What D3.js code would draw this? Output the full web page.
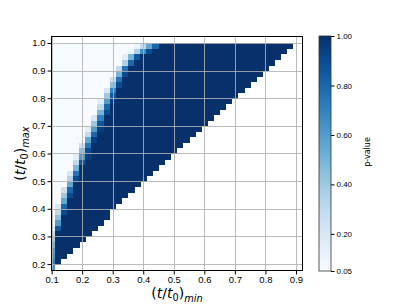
<!DOCTYPE html>
<html>
<head>
<meta charset="utf-8">
<script src="https://cdn.jsdelivr.net/npm/d3@7"></script>
<style>
  body { margin: 0; background: #fff; }
  svg { display: block; font-family: "DejaVu Sans", sans-serif; }
</style>
</head>
<body>
<svg id="chart"></svg>
<script>
// Data: column centres (t/t0)_min and row centres (t/t0)_max
const tMin = [0.10, 0.12, 0.14, 0.16, 0.18, 0.20, 0.22, 0.24, 0.26, 0.28,
              0.30, 0.32, 0.34, 0.36, 0.38, 0.40, 0.42, 0.44, 0.46, 0.48,
              0.50, 0.52, 0.54, 0.56, 0.58, 0.60, 0.62, 0.64, 0.66, 0.68,
              0.70, 0.72, 0.74, 0.76, 0.78, 0.80, 0.82, 0.84, 0.86, 0.88, 0.90];
const tMax = [0.19, 0.21, 0.23, 0.25, 0.27, 0.29, 0.31, 0.33, 0.35, 0.37,
              0.39, 0.41, 0.43, 0.45, 0.47, 0.49, 0.51, 0.53, 0.55, 0.57,
              0.59, 0.61, 0.63, 0.65, 0.67, 0.69, 0.71, 0.73, 0.75, 0.77,
              0.79, 0.81, 0.83, 0.85, 0.87, 0.89, 0.91, 0.93, 0.95, 0.97, 0.99];

// last filled column for each row (cells beyond are empty)
const lastCol = [0, 1, 2, 3, 4, 5, 6, 7, 8, 9,
                 9, 10, 11, 12, 13, 14, 15, 16, 17, 18,
                 19, 20, 21, 22, 23, 24, 25, 26, 27, 28,
                 29, 30, 31, 32, 33, 34, 35, 36, 37, 38, 39];

// per row: first column of the transition, and the p-values across it.
// columns before it sit at the floor (0.05), after it at 1.00
const rampStart = [0, 0, 0, 0, 0, 0, 0, 0, 1, 1,
                   1, 1, 2, 2, 2, 3, 3, 3, 4, 4,
                   4, 5, 5, 6, 6, 6, 7, 7, 8, 8,
                   8, 9, 9, 10, 10, 11, 11, 12, 12, 13, 14];
const ramps = [
  [0.65], [0.70], [0.65], [0.60], [0.50], [0.40], [0.25], [0.15, 0.85], [0.60], [0.45],
  [0.30, 0.90], [0.20, 0.80], [0.55], [0.40, 0.90], [0.25, 0.80], [0.55], [0.35, 0.90], [0.20, 0.75], [0.50], [0.30, 0.85],
  [0.15, 0.60, 0.95], [0.45, 0.90], [0.25, 0.75], [0.55, 0.95], [0.30, 0.80], [0.15, 0.60, 0.95], [0.40, 0.85], [0.20, 0.70], [0.50, 0.90], [0.30, 0.80],
  [0.15, 0.60, 0.95], [0.40, 0.85], [0.20, 0.70], [0.45, 0.90], [0.25, 0.75], [0.50, 0.90], [0.30, 0.75], [0.35, 0.80], [0.15, 0.50, 0.85],
  [0.10, 0.35, 0.65, 0.90], [0.10, 0.30, 0.55, 0.80]
];

const xTicks = [0.1, 0.2, 0.3, 0.4, 0.5, 0.6, 0.7, 0.8, 0.9];
const yTicks = [0.2, 0.3, 0.4, 0.5, 0.6, 0.7, 0.8, 0.9, 1.0];
const cbTicks = [0.05, 0.2, 0.4, 0.6, 0.8, 1.0];

// Dimensions
const width = 407;
const height = 305;
const plot = { left: 51, right: 303, top: 36, bottom: 271 };
const cb = { left: 319, right: 331 };
const halfStep = 0.01;

const svg = d3.select("#chart")
    .attr("width", width)
    .attr("height", height);

// Scales
const x = d3.scaleLinear().domain([0.098, 0.923]).range([plot.left, plot.right]);
const y = d3.scaleLinear().domain([0.175, 1.025]).range([plot.bottom, plot.top]);
const color = d3.scaleSequential(d3.interpolateBlues).domain([0.05, 1.0]);

// Build cells
const cells = [];
tMax.forEach((ty, j) => {
    for (let i = 0; i <= lastCol[j]; i++) {
        let p;
        if (i < rampStart[j]) p = 0.05;
        else if (i - rampStart[j] < ramps[j].length) p = ramps[j][i - rampStart[j]];
        else p = 1.0;
        cells.push({ tx: tMin[i], ty: ty, p: p });
    }
});

svg.append("clipPath").attr("id", "clip")
  .append("rect")
    .attr("x", plot.left).attr("y", plot.top)
    .attr("width", plot.right - plot.left).attr("height", plot.bottom - plot.top);

// Heatmap
svg.append("g")
    .attr("clip-path", "url(#clip)")
    .attr("shape-rendering", "crispEdges")
  .selectAll("rect")
  .data(cells)
  .enter()
  .append("rect")
    .attr("x", d => x(d.tx - halfStep))
    .attr("y", d => y(d.ty + halfStep))
    .attr("width", d => x(d.tx + halfStep) - x(d.tx - halfStep) + 0.5)
    .attr("height", d => y(d.ty - halfStep) - y(d.ty + halfStep) + 0.5)
    .attr("fill", d => color(d.p));

// Grid
const grid = svg.append("g").attr("stroke", "#b0b0b0").attr("stroke-opacity", 0.85).attr("stroke-width", 1);
grid.selectAll(".gx").data(xTicks).enter().append("line")
    .attr("x1", d => Math.round(x(d)) + 0.5).attr("x2", d => Math.round(x(d)) + 0.5)
    .attr("y1", plot.top).attr("y2", plot.bottom);
grid.selectAll(".gy").data(yTicks).enter().append("line")
    .attr("y1", d => Math.round(y(d)) + 0.5).attr("y2", d => Math.round(y(d)) + 0.5)
    .attr("x1", plot.left).attr("x2", plot.right);

// Axes
const xAxis = svg.append("g")
    .attr("transform", `translate(0,${plot.bottom})`)
    .call(d3.axisBottom(x).tickValues(xTicks).tickSize(3.5).tickPadding(2).tickFormat(d3.format(".1f")));
const yAxis = svg.append("g")
    .attr("transform", `translate(${plot.left},0)`)
    .call(d3.axisLeft(y).tickValues(yTicks).tickSize(3.5).tickPadding(2).tickFormat(d3.format(".1f")));
[xAxis, yAxis].forEach(a => {
    a.select(".domain").remove();
    a.selectAll("text").style("font-size", "9.5px").attr("fill", "#000");
    a.selectAll("line").attr("stroke", "#000");
});

// Frame
svg.append("rect")
    .attr("x", plot.left + 0.5).attr("y", plot.top + 0.5)
    .attr("width", plot.right - plot.left - 1).attr("height", plot.bottom - plot.top - 1)
    .attr("fill", "none").attr("stroke", "#000").attr("stroke-width", 1);

// Axis labels
function mathLabel(sel, sub) {
    sel.append("tspan").text("(");
    sel.append("tspan").attr("font-style", "italic").text("t");
    sel.append("tspan").text("/");
    sel.append("tspan").attr("font-style", "italic").text("t");
    sel.append("tspan").attr("font-size", "9.8px").attr("dy", 2.5).text("0");
    sel.append("tspan").attr("dy", -2.5).text(")");
    sel.append("tspan").attr("font-size", "9.8px").attr("font-style", "italic").attr("dy", 3.5).text(sub);
}
svg.append("text")
    .attr("x", (plot.left + plot.right) / 2).attr("y", 298)
    .attr("text-anchor", "middle").style("font-size", "14px")
    .call(mathLabel, "min");
svg.append("text")
    .attr("transform", `translate(25,${(plot.top + plot.bottom) / 2}) rotate(-90)`)
    .attr("text-anchor", "middle").style("font-size", "14px")
    .call(mathLabel, "max");

// Colorbar
const cy = d3.scaleLinear().domain([0.05, 1.0]).range([plot.bottom, plot.top]);
const grad = svg.append("defs").append("linearGradient")
    .attr("id", "cbgrad").attr("x1", 0).attr("y1", 1).attr("x2", 0).attr("y2", 0);
d3.range(0, 1.0001, 0.05).forEach(t => {
    grad.append("stop").attr("offset", t).attr("stop-color", d3.interpolateBlues(t));
});
svg.append("rect")
    .attr("x", cb.left).attr("y", plot.top)
    .attr("width", cb.right - cb.left).attr("height", plot.bottom - plot.top)
    .attr("fill", "url(#cbgrad)")
    .attr("stroke", "#333").attr("stroke-width", 0.8);
const cbAxis = svg.append("g")
    .attr("transform", `translate(${cb.right},0)`)
    .call(d3.axisRight(cy).tickValues(cbTicks).tickSize(3.5).tickPadding(2).tickFormat(d3.format(".2f")));
cbAxis.select(".domain").remove();
cbAxis.selectAll("text").style("font-size", "8px").attr("fill", "#000");
cbAxis.selectAll("line").attr("stroke", "#000");

svg.append("text")
    .attr("transform", `translate(370,152) rotate(-90)`)
    .attr("text-anchor", "middle").style("font-size", "8px")
    .text("p-value");
</script>
</body>
</html>
